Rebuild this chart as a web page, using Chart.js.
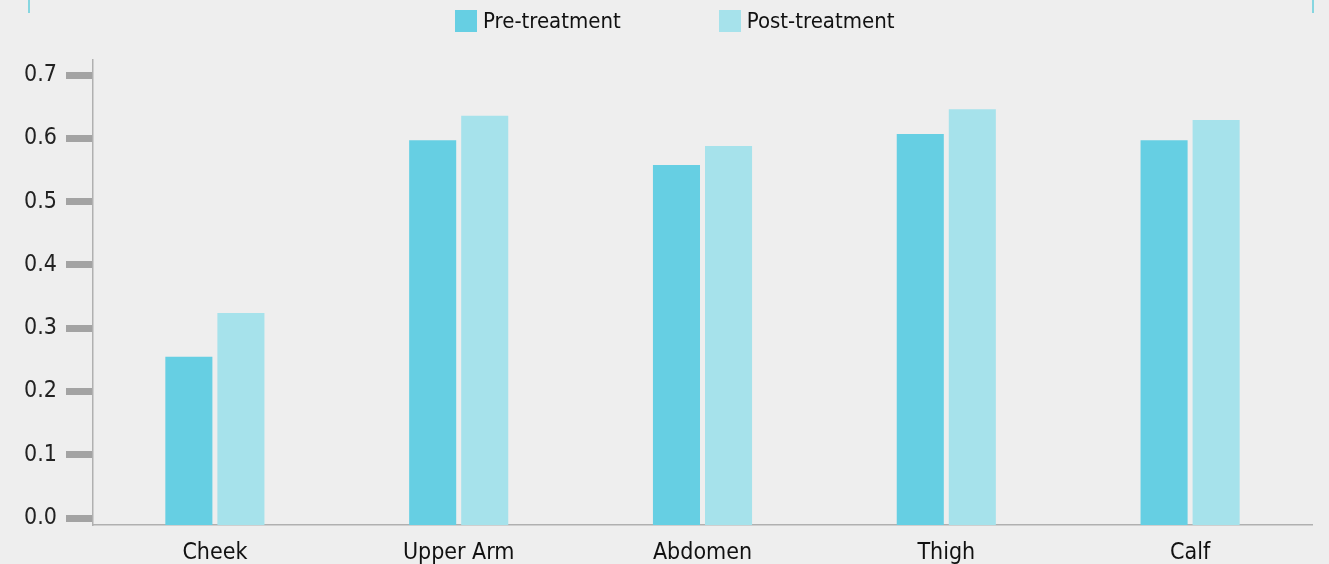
<!DOCTYPE html>
<html>
<head>
<meta charset="utf-8">
<title>Pre vs Post treatment</title>
<script src="https://cdn.jsdelivr.net/npm/chart.js@4.4.1/dist/chart.umd.min.js"></script>
<style>
  html, body { margin: 0; padding: 0; background: #eeeeee; }
  #wrap { position: relative; width: 1329px; height: 564px; overflow: hidden; }
  #chart { position: absolute; left: 0; top: 0; }
  .edge { position: absolute; top: 0; width: 2px; height: 13px; background: #86d6e0; }
  #legend {
    position: absolute; top: 10px; left: 455px;
    display: flex; gap: 98px;
    font-family: "Liberation Sans Narrow", "DejaVu Sans Condensed", sans-serif;
    font-size: 22px; color: #111; line-height: 22px;
  }
  .item { display: flex; align-items: center; gap: 6px; }
  .swatch { width: 22px; height: 22px; }
</style>
</head>
<body>
<div id="wrap">
  <canvas id="chart" width="1329" height="564"></canvas>
  <div class="edge" style="left:28px"></div>
  <div class="edge" style="left:1312px"></div>
  <div id="legend"></div>
</div>
<script>
// --- Data ---
const categories = ["Cheek", "Upper Arm", "Abdomen", "Thigh", "Calf"];
const preValues  = [0.255, 0.597, 0.558, 0.607, 0.597];
const postValues = [0.324, 0.636, 0.588, 0.646, 0.629];
const yTicks = [0, 0.1, 0.2, 0.3, 0.4, 0.5, 0.6, 0.7];
const seriesNames = ["Pre-treatment", "Post-treatment"];
const seriesColors = ["#66cfe3", "#a6e2eb"];

const FONT = "'Liberation Sans Narrow', 'DejaVu Sans Condensed', sans-serif";
const Y_MIN = -0.011;

// --- Legend (HTML) ---
const legend = document.getElementById("legend");
seriesNames.forEach((name, i) => {
  legend.insertAdjacentHTML("beforeend",
    `<div class="item"><div class="swatch" style="background:${seriesColors[i]}"></div><span>${name}</span></div>`);
});

// --- Chart ---
new Chart(document.getElementById("chart"), {
  type: "bar",
  data: {
    labels: categories,
    datasets: [
      { label: seriesNames[0], data: preValues, backgroundColor: seriesColors[0], base: Y_MIN },
      { label: seriesNames[1], data: postValues, backgroundColor: seriesColors[1], base: Y_MIN }
    ]
  },
  options: {
    responsive: false,
    animation: false,
    categoryPercentage: 0.427,
    barPercentage: 0.904,
    layout: { padding: { top: 60, right: 17, bottom: 0, left: 0 } },
    plugins: { legend: { display: false }, tooltip: { enabled: false } },
    scales: {
      x: {
        grid: { display: false },
        border: { display: true, color: "#b0b0b0", width: 1.5 },
        ticks: { color: "#111", font: { family: FONT, size: 23 }, padding: 6, maxRotation: 0 },
        afterFit: (axis) => { axis.height = 39; }
      },
      y: {
        min: Y_MIN,
        max: 0.724,
        grid: { drawOnChartArea: false, drawTicks: true, tickLength: 27, tickWidth: 7, tickColor: "#a3a3a3" },
        border: { display: true, color: "#b0b0b0", width: 1.5 },
        ticks: {
          color: "#222",
          font: { family: FONT, size: 23 },
          padding: 9,
          callback: (v) => Number(v).toFixed(1)
        },
        afterBuildTicks: (axis) => { axis.ticks = yTicks.map(v => ({ value: v })); },
        afterFit: (axis) => { axis.width = 93; }
      }
    }
  }
});
</script>
</body>
</html>
